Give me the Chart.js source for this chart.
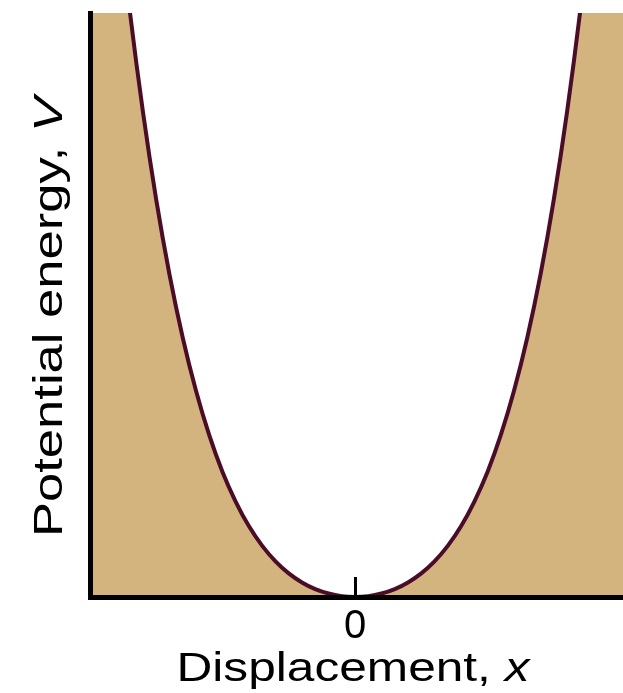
<!DOCTYPE html>
<html>
<head>
<meta charset="utf-8">
<script src="https://cdn.jsdelivr.net/npm/chart.js@4"></script>
<style>
  html, body { margin: 0; padding: 0; background: #fff; overflow: hidden; }
  #wrap { width: 623px; height: 693px; }
</style>
</head>
<body>
<div id="wrap"><canvas id="wellChart" width="623" height="693"></canvas></div>
<script>
// displacement (arbitrary units) and potential energy (1 = top of plot)
const displacement = [-1.05, -1.0, -0.95, -0.9, -0.85, -0.8, -0.75, -0.7, -0.65, -0.6, -0.55, -0.5, -0.45, -0.4, -0.35, -0.3, -0.25, -0.2, -0.15, -0.1, -0.05,
  0, 0.05, 0.1, 0.15, 0.2, 0.25, 0.3, 0.35, 0.4, 0.45, 0.5, 0.55, 0.6, 0.65, 0.7, 0.75, 0.8, 0.85, 0.9, 0.95, 1.0, 1.05];
const potential = [1.99, 1.70, 1.436, 1.205, 1.004, 0.830, 0.680, 0.552, 0.444, 0.353, 0.277, 0.214, 0.163, 0.121, 0.0875, 0.061, 0.0404, 0.0249, 0.0135, 0.0059, 0.0014,
  0, 0.0014, 0.0059, 0.0135, 0.0249, 0.0404, 0.061, 0.0875, 0.121, 0.163, 0.214, 0.277, 0.353, 0.444, 0.552, 0.680, 0.830, 1.004, 1.205, 1.436, 1.70, 1.99];
const xTickValues = [0];
const xTitleParts = [{ text: "Displacement, ", italic: false }, { text: "x", italic: true }];
const yTitleParts = [{ text: "Potential energy, ", italic: false }, { text: "V", italic: true }];

const FONT = "Liberation Sans, Arial, sans-serif";
const points = displacement.map((x, i) => ({ x: x, y: potential[i] }));

// titles mix upright and italic text, so draw them after the chart
function drawTitle(c, parts, x, y, angle, targetWidth) {
  const fontOf = p => (p.italic ? "italic " : "") + "41px " + FONT;
  let total = 0;
  parts.forEach(p => { c.font = fontOf(p); p.w = c.measureText(p.text).width; total += p.w; });
  c.save();
  c.translate(x, y);
  c.rotate(angle);
  c.scale(targetWidth / total, 1);
  c.fillStyle = "#000";
  c.textAlign = "left";
  c.textBaseline = "alphabetic";
  let cx = -total / 2;
  parts.forEach(p => { c.font = fontOf(p); c.fillText(p.text, cx, 0); cx += p.w; });
  c.restore();
}

const titlePlugin = {
  id: "axisTitles",
  afterDraw(chart) {
    const area = chart.chartArea;
    drawTitle(chart.ctx, xTitleParts, chart.scales.x.getPixelForValue(0) - 2, 681, 0, 353);
    drawTitle(chart.ctx, yTitleParts, 62, (area.top + area.bottom) / 2 + 12, -Math.PI / 2, 440);
  }
};

const ctx = document.getElementById("wellChart").getContext("2d");
new Chart(ctx, {
  type: "line",
  data: {
    datasets: [{
      data: points,
      borderColor: "#4b0c28",
      borderWidth: 4,
      backgroundColor: "#d3b47f",
      fill: "origin",
      pointRadius: 0,
      cubicInterpolationMode: "monotone"
    }]
  },
  options: {
    responsive: false,
    animation: false,
    layout: { padding: { top: 13, right: 0, left: 0, bottom: 0 } },
    plugins: { legend: { display: false }, tooltip: { enabled: false } },
    scales: {
      x: {
        type: "linear",
        min: -1,
        max: 1.0113,
        afterBuildTicks: s => { s.ticks = xTickValues.map(v => ({ value: v })); },
        afterFit: s => { s.height = 96; },
        grid: { z: 1, drawOnChartArea: false, tickLength: -20, tickWidth: 3, tickColor: "#000" },
        border: { z: 2, display: true, color: "#000", width: 5 },
        ticks: {
          padding: 26,
          color: "#000",
          font: { family: FONT, size: 40 },
          callback: v => String(v)
        },
        title: { display: false }
      },
      y: {
        min: 0,
        max: 1,
        afterFit: s => { s.width = 90; },
        grid: { display: false },
        border: { z: 2, display: true, color: "#000", width: 5 },
        ticks: { display: false },
        title: { display: false }
      }
    }
  },
  plugins: [titlePlugin]
});
</script>
</body>
</html>
